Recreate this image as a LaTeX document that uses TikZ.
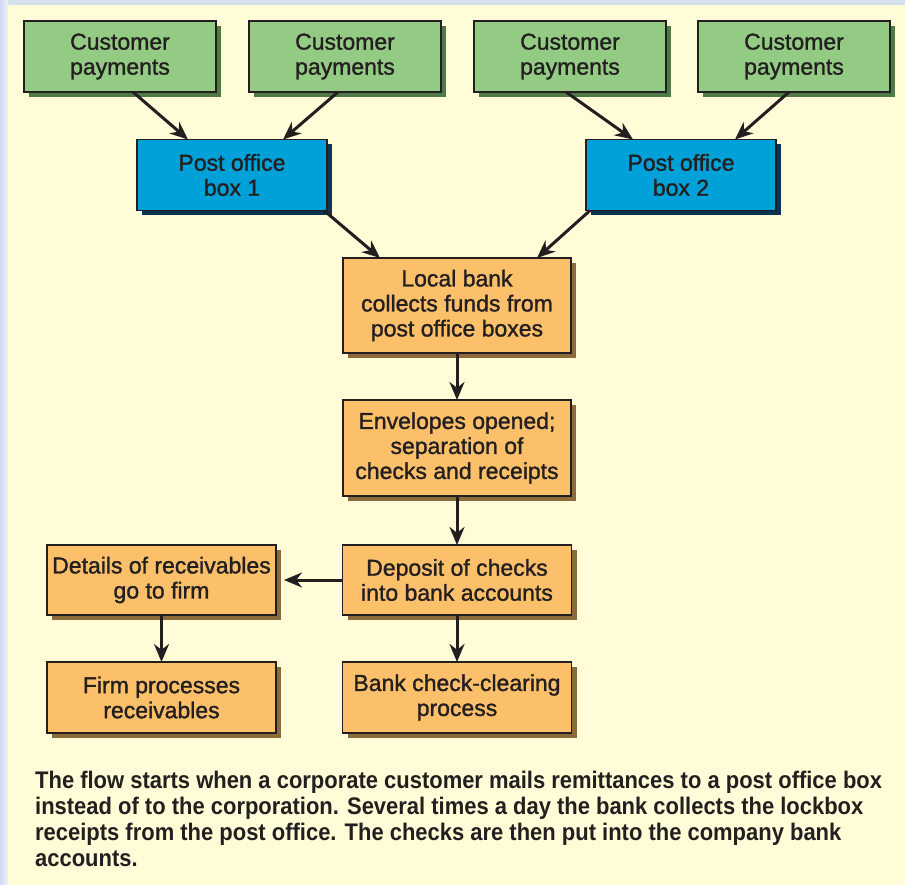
\documentclass[tikz,border=0pt]{standalone}
\usepackage{fontspec}
\setmainfont{Liberation Sans}
\newfontfamily\boxfont[FakeBold=1.3]{Liberation Sans}
\newfontfamily\capfont[FakeStretch=0.915]{Liberation Sans}
\usepackage{tikz}
\usetikzlibrary{arrows.meta,positioning,shadows,calc}

\definecolor{payGreen}{HTML}{93CB84}
\definecolor{payShade}{HTML}{4F7A47}
\definecolor{boxBlue}{HTML}{00A0D8}
\definecolor{boxShade}{HTML}{0B3550}
\definecolor{bankOrange}{HTML}{FCC06A}
\definecolor{bankShade}{HTML}{8C6B3A}
\definecolor{paper}{HTML}{FFFCD7}
\definecolor{frameBlue}{HTML}{D3E1EC}
\definecolor{ink}{HTML}{231F20}

\begin{document}
\begin{tikzpicture}[
    x=1pt, y=-1pt,
    % --- STYLES ---
    box/.style={
        rectangle, draw=ink, line width=1.5pt,
        align=center, text=ink, outer sep=0pt,
        font=\boxfont\fontsize{23}{25}\selectfont,
        inner sep=2pt
    },
    payer/.style={box, fill=payGreen,
        minimum width=192pt, minimum height=71pt,
        general shadow={shadow xshift=5pt, shadow yshift=-5pt, fill=payShade}},
    pobox/.style={box, fill=boxBlue,
        minimum width=190pt, minimum height=71pt,
        general shadow={shadow xshift=5pt, shadow yshift=-5pt, fill=boxShade}},
    stepbox/.style={box, fill=bankOrange,
        minimum width=229pt, minimum height=71pt,
        general shadow={shadow xshift=5pt, shadow yshift=-5pt, fill=bankShade}},
    flow/.style={-{Stealth[length=18pt,width=15pt]}, line width=3pt, draw=ink}
]

% ===== 1. BACKGROUND =====
\useasboundingbox (0,0) rectangle (905,885);
\fill[frameBlue] (0,0) rectangle (905,885);
\shade[left color=frameBlue!85!blue!60!white, right color=frameBlue!40!white] (0,0) rectangle (8,885);
\fill[paper] (8,5) rectangle (905,885);

% ===== 2. CUSTOMER PAYMENTS =====
\node[payer] (cp1) at (120,56.5) {Customer\\payments};
\node[payer] (cp2) at (345,56.5) {Customer\\payments};
\node[payer] (cp3) at (570,56.5) {Customer\\payments};
\node[payer] (cp4) at (794,56.5) {Customer\\payments};

% ===== 3. POST OFFICE BOXES =====
\node[pobox] (po1) at (232,175) {Post office\\box 1};
\node[pobox] (po2) at (681,175) {Post office\\box 2};

% ===== 4. BANK STEPS =====
\node[stepbox, minimum width=228pt, minimum height=95pt] (bank) at (457,305.5)
    {Local bank\\collects funds from\\post office boxes};
\node[stepbox, minimum width=228pt, minimum height=96pt, below=47pt of bank] (open)
    {Envelopes opened;\\separation of\\checks and receipts};
\node[stepbox, minimum height=70pt, below=49pt of open] (deposit)
    {Deposit of checks\\into bank accounts};
\node[stepbox, below=47pt of deposit] (clear) {Bank check-clearing\\process};

% Firm side
\node[stepbox, minimum height=70pt] (details) at (161.5,580) {Details of receivables\\go to firm};
\node[stepbox, below=47pt of details] (firm) {Firm processes\\receivables};

% ===== 5. CONNECTIONS =====
\draw[flow] ([xshift=13pt]cp1.south) -- ([xshift=-44pt]po1.north);
\draw[flow] ([xshift=-7pt]cp2.south) -- ([xshift=51pt]po1.north);
\draw[flow] ([xshift=-4pt]cp3.south) -- ([xshift=-48pt]po2.north);
\draw[flow] ([xshift=-5pt]cp4.south) -- ([xshift=54pt]po2.north);

\draw[flow] ([xshift=-3pt]po1.south east) -- ([xshift=-77pt]bank.north);
\draw[flow] ([xshift=4pt]po2.south west) -- ([xshift=80pt]bank.north);

\draw[flow] (bank) -- (open);
\draw[flow] (open) -- (deposit);
\draw[flow] (deposit) -- (clear);
\draw[flow] (deposit.west) -- ([xshift=8pt]details.east);
\draw[flow] (details) -- (firm);

% ===== 6. CAPTION =====
\node[anchor=north west, align=left, text=ink, inner sep=0pt,
      font=\capfont\bfseries\fontsize{24}{26}\selectfont] (caption) at (35,771)
    {The flow starts when a corporate customer mails remittances to a post office box\\
     instead of to the corporation. Several times a day the bank collects the lockbox\\
     receipts from the post office. The checks are then put into the company bank\\
     accounts.};

\end{tikzpicture}
\end{document}
